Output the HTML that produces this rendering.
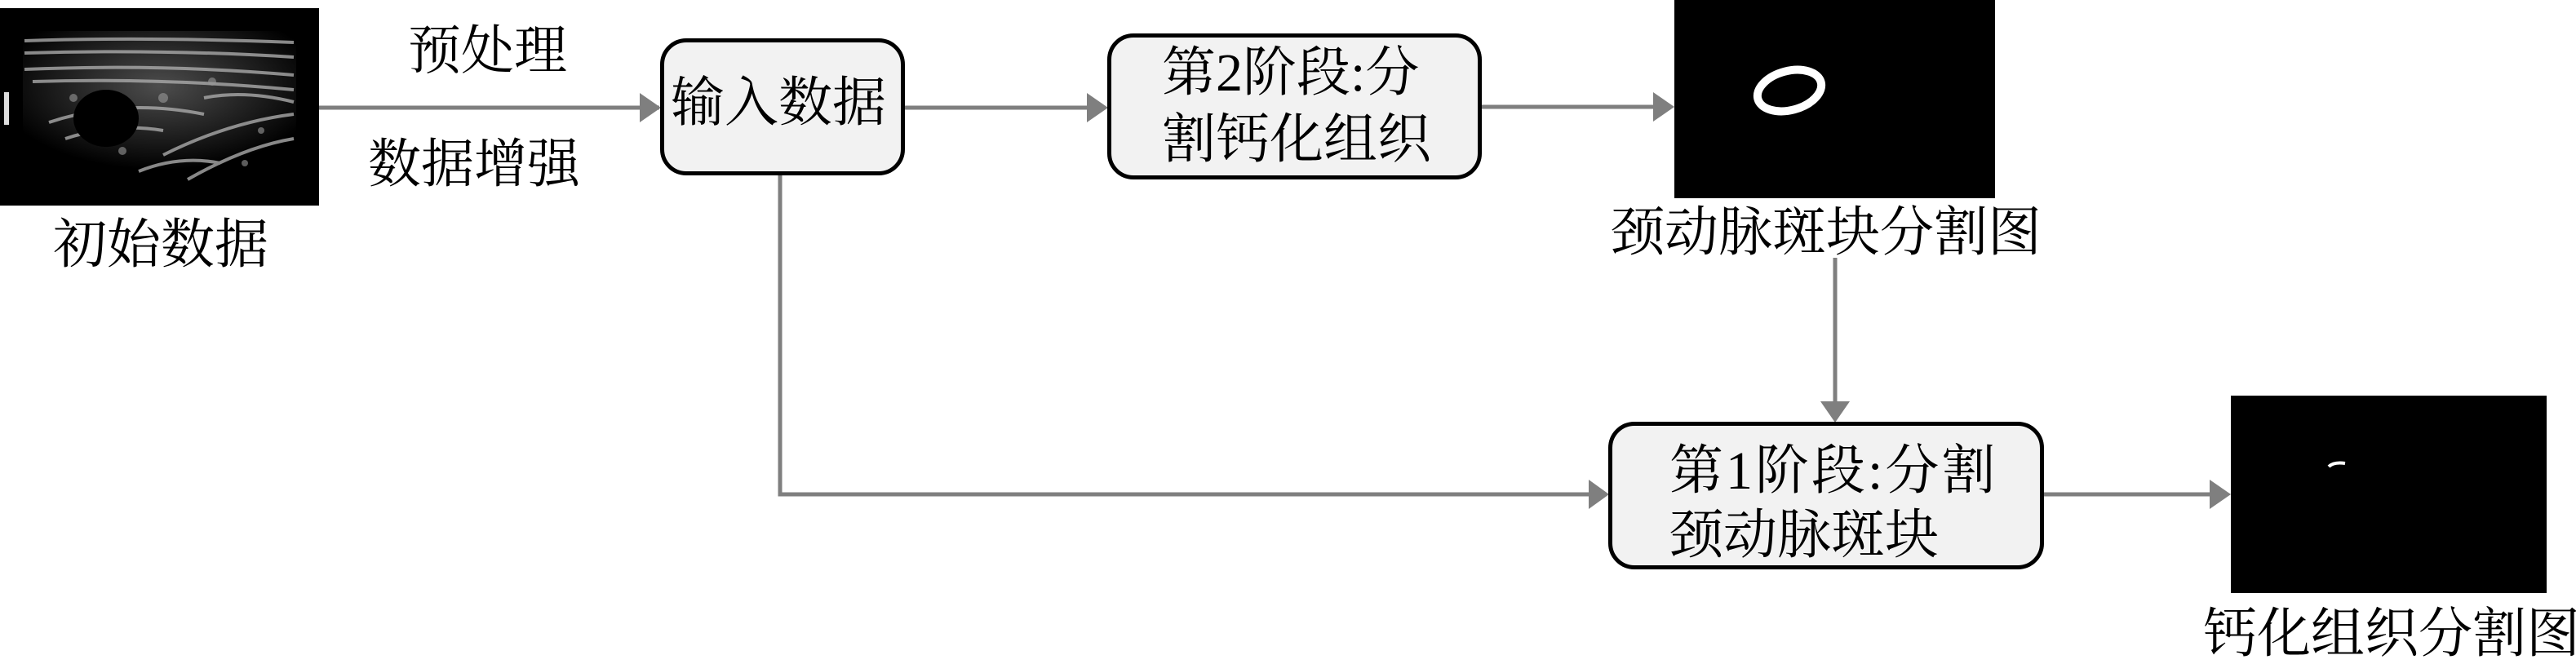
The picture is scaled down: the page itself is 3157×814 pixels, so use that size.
<!DOCTYPE html>
<html><head><meta charset="utf-8"><style>
body{margin:0;width:3157px;height:811px;background:#fff;position:relative;overflow:hidden;font-family:"Liberation Serif","Noto Serif CJK SC",serif;}
.t{position:absolute;font-size:66px;line-height:66px;white-space:nowrap;color:#000;}
.box{position:absolute;box-sizing:border-box;border:5px solid #000;border-radius:32px;background:#f2f2f2;}
</style></head><body>
<svg width="3157" height="811" style="position:absolute;left:0;top:0">
<defs>
<radialGradient id="g1" cx="0.5" cy="0.4" r="0.6"><stop offset="0" stop-color="#555"/><stop offset="1" stop-color="#000"/></radialGradient>
</defs>
<rect x="0" y="10" width="391" height="242" fill="#000"/>
<rect x="28" y="38" width="335" height="170" fill="url(#g1)" opacity="0.9"/>
<g stroke="#aaa" stroke-width="4" fill="none" opacity="0.8">
<path d="M30,50 Q180,45 360,52"/><path d="M30,65 Q200,60 360,70"/><path d="M30,85 Q200,78 360,92"/><path d="M40,100 Q200,95 360,110"/>
<path d="M60,150 Q150,120 250,140"/><path d="M200,190 Q280,150 360,140"/><path d="M230,220 Q300,180 360,170"/>
<path d="M80,170 Q140,150 200,160"/><path d="M250,120 Q300,110 360,125"/><path d="M170,210 Q220,190 270,200"/>
</g>
<g fill="#999" opacity="0.6">
<circle cx="90" cy="120" r="5"/><circle cx="200" cy="120" r="6"/><circle cx="260" cy="100" r="5"/><circle cx="320" cy="160" r="4"/><circle cx="150" cy="185" r="5"/><circle cx="300" cy="200" r="4"/>
</g>
<ellipse cx="130" cy="145" rx="40" ry="35" fill="#000"/>
<rect x="5" y="113" width="6" height="40" fill="#ddd"/>
<g stroke="#7f7f7f" stroke-width="5" fill="none">
<line x1="391" y1="132" x2="808" y2="132"/>
<line x1="1108" y1="132" x2="1336" y2="132"/>
<line x1="1815" y1="131" x2="2030" y2="131"/>
<polyline points="956,215 956,606 1950,606"/>
<line x1="2249" y1="316" x2="2249" y2="496"/>
<line x1="2505" y1="606" x2="2712" y2="606"/>
</g>
<g fill="#7f7f7f">
<path d="M784,114 L810,132 L784,150 z"/>
<path d="M1332,114 L1358,132 L1332,150 z"/>
<path d="M2026,113 L2052,131 L2026,149 z"/>
<path d="M1947,588 L1972,606 L1947,624 z"/>
<path d="M2231,492 L2249,518 L2267,492 z"/>
<path d="M2708,588 L2734,606 L2708,624 z"/>
</g>
<rect x="2052" y="0" width="393" height="243" fill="#000"/>
<ellipse cx="2193" cy="111" rx="40" ry="24" transform="rotate(-15 2193 111)" fill="none" stroke="#fff" stroke-width="10"/>
<rect x="2734" y="485" width="387" height="242" fill="#000"/>
<path d="M2854,572 Q2860,566 2874,568" stroke="#fff" stroke-width="4" fill="none"/>
</svg>
<div class="box" style="left:809px;top:47px;width:300px;height:168px"></div>
<div class="box" style="left:1357px;top:41px;width:459px;height:179px"></div>
<div class="box" style="left:1971px;top:517px;width:534px;height:181px"></div>
<div class="t" style="left:500px;top:30px;font-size:65px">预处理</div>
<div class="t" style="left:451px;top:169px;font-size:65px">数据增强</div>
<div class="t" style="left:65px;top:268px">初始数据</div>
<div class="t" style="left:822px;top:94px">输入数据</div>
<div class="t" style="left:1424px;top:57px">第2阶段:分</div>
<div class="t" style="left:1424px;top:139px">割钙化组织</div>
<div class="t" style="left:2046px;top:545px;letter-spacing:3px">第1阶段:分割</div>
<div class="t" style="left:2046px;top:624px">颈动脉斑块</div>
<div class="t" style="left:1974px;top:253px">颈动脉斑块分割图</div>
<div class="t" style="left:2700px;top:745px">钙化组织分割图</div>
</body></html>
